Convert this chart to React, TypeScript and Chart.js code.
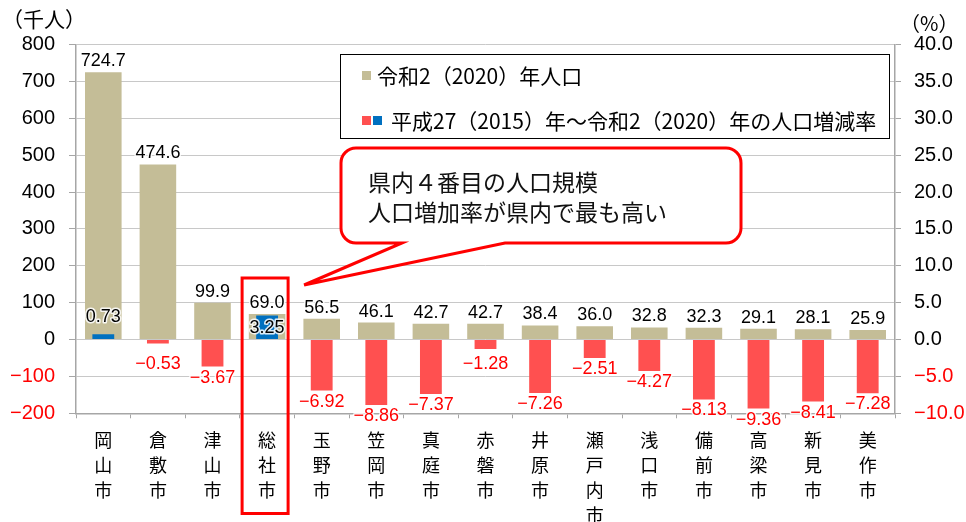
import { useEffect, useRef } from 'react';
import { Chart, registerables } from 'chart.js';

Chart.register(...registerables);

const categories = ['岡山市', '倉敷市', '津山市', '総社市', '玉野市', '笠岡市', '真庭市', '赤磐市', '井原市', '瀬戸内市', '浅口市', '備前市', '高梁市', '新見市', '美作市'];
const population = [724.7, 474.6, 99.9, 69.0, 56.5, 46.1, 42.7, 42.7, 38.4, 36.0, 32.8, 32.3, 29.1, 28.1, 25.9];
const changeRate = [0.73, -0.53, -3.67, 3.25, -6.92, -8.86, -7.37, -1.28, -7.26, -2.51, -4.27, -8.13, -9.36, -8.41, -7.28];
const popAxis = [-200, 800, 100];
const rateAxis = [-10, 40, 5];
const highlightIndex = 3;
const legendLabels = ['令和2（2020）年人口', '平成27（2015）年～令和2（2020）年の人口増減率'];
const calloutLines = ['県内４番目の人口規模', '人口増加率が県内で最も高い'];

const TAN = '#C4BD97';
const RED = '#FF5050';
const BLUE = '#0070C0';
const CJK = '"Noto Sans CJK JP", sans-serif';
const NUM = '"Liberation Sans", Arial, sans-serif';

const minus = (s: string) => s.replace('-', '\u2212');

function haloText(ctx: CanvasRenderingContext2D, t: string, x: number, y: number, color: string) {
  ctx.save();
  ctx.strokeStyle = 'rgba(255,255,255,0.85)';
  ctx.lineWidth = 3;
  ctx.lineJoin = 'round';
  ctx.strokeText(t, x, y);
  ctx.fillStyle = color;
  ctx.fillText(t, x, y);
  ctx.restore();
}

const valueLabels = {
  id: 'valueLabels',
  afterDatasetsDraw(chart: any) {
    const ctx = chart.ctx as CanvasRenderingContext2D;
    const y0 = chart.scales.y.getPixelForValue(0);
    const top = chart.chartArea.top;
    const rateMeta = chart.getDatasetMeta(0);
    const popMeta = chart.getDatasetMeta(1);
    ctx.save();
    ctx.font = `18px ${NUM}`;
    ctx.textAlign = 'center';
    ctx.textBaseline = 'middle';
    const popCenters: number[] = [];
    popMeta.data.forEach((bar: any, i: number) => {
      const cy = Math.max(bar.y - 11, top + 2);
      popCenters[i] = cy;
      haloText(ctx, population[i].toFixed(1), bar.x, cy, '#000');
    });
    rateMeta.data.forEach((bar: any, i: number) => {
      const v = changeRate[i];
      let cy: number;
      let color = '#000';
      if (v >= 0) {
        cy = Math.min(bar.y - 11, y0 - 23);
        if (Math.abs(cy - popCenters[i]) < 18) cy = bar.y + 12;
      } else {
        cy = Math.max(bar.y + 11, y0 + 24);
        color = '#FF0000';
      }
      haloText(ctx, minus(v.toFixed(2)), bar.x, cy, color);
    });
    ctx.restore();
  },
};

const annotations = {
  id: 'annotations',
  afterDraw(chart: any) {
    const ctx = chart.ctx as CanvasRenderingContext2D;
    const xs = chart.scales.x;
    const xc = xs.getPixelForValue(highlightIndex);
    ctx.save();

    // axis unit titles
    ctx.fillStyle = '#000';
    ctx.textBaseline = 'middle';
    ctx.textAlign = 'left';
    ctx.font = `21px ${CJK}`;
    ctx.fillText('（千人）', 2, 19);
    ctx.font = `20px ${CJK}`;
    ctx.fillText('（%）', 900, 23);

    // highlight box around category label
    ctx.strokeStyle = '#FF0000';
    ctx.lineWidth = 3;
    const bx1 = xc - 25, bx2 = xc + 21, by1 = 278, by2 = 513.5;
    ctx.strokeRect(bx1, by1, bx2 - bx1, by2 - by1);

    // callout
    const L = 341, T = 148, R = 741, B = 243, r = 15;
    const tipX = bx2 + 16, tipY = by1 + 7;
    ctx.beginPath();
    ctx.moveTo(L + r, T);
    ctx.lineTo(R - r, T);
    ctx.arcTo(R, T, R, T + r, r);
    ctx.lineTo(R, B - r);
    ctx.arcTo(R, B, R - r, B, r);
    ctx.lineTo(505, B);
    ctx.lineTo(tipX, tipY);
    ctx.lineTo(402, B);
    ctx.lineTo(L + r, B);
    ctx.arcTo(L, B, L, B - r, r);
    ctx.lineTo(L, T + r);
    ctx.arcTo(L, T, L + r, T, r);
    ctx.closePath();
    ctx.fillStyle = '#fff';
    ctx.fill();
    ctx.lineJoin = 'miter';
    ctx.stroke();
    ctx.fillStyle = '#111';
    ctx.font = `23px ${CJK}`;
    ctx.textAlign = 'left';
    ctx.fillText(calloutLines[0], 368, 182);
    ctx.fillText(calloutLines[1], 368, 212);

    // legend
    ctx.fillStyle = '#fff';
    ctx.fillRect(340, 54, 549, 84);
    ctx.strokeStyle = '#000';
    ctx.lineWidth = 1;
    ctx.strokeRect(340.5, 54.5, 549, 84);
    ctx.fillStyle = TAN;
    ctx.fillRect(362, 71, 9, 9);
    ctx.fillStyle = RED;
    ctx.fillRect(362, 116, 9, 9);
    ctx.fillStyle = BLUE;
    ctx.fillRect(373, 116, 9, 9);
    ctx.fillStyle = '#000';
    ctx.font = `21px ${CJK}`;
    ctx.fillText(legendLabels[0], 377, 76);
    ctx.fillText(legendLabels[1], 391, 121);
    ctx.restore();
  },
};

export default function App() {
  const ref = useRef<HTMLCanvasElement>(null);
  useEffect(() => {
    document.body.style.margin = '0';
    const chart = new Chart(ref.current!, {
      type: 'bar',
      data: {
        labels: categories.map((c) => c.split('')),
        datasets: [
          {
            label: legendLabels[1],
            data: changeRate,
            yAxisID: 'y1',
            backgroundColor: changeRate.map((v) => (v >= 0 ? BLUE : RED)),
            grouped: false,
            categoryPercentage: 1,
            barPercentage: 0.4,
            order: 0,
          },
          {
            label: legendLabels[0],
            data: population,
            yAxisID: 'y',
            backgroundColor: TAN,
            grouped: false,
            categoryPercentage: 1,
            barPercentage: 0.67,
            order: 1,
          },
        ],
      },
      options: {
        responsive: false,
        animation: false,
        devicePixelRatio: 1,
        layout: { padding: { top: 44.5, left: 0, right: 0, bottom: 0 } },
        plugins: { legend: { display: false }, tooltip: { enabled: false } },
        scales: {
          x: {
            afterFit: (s: any) => { s.height = 108.7; },
            grid: { display: true, drawOnChartArea: false, offset: true, tickLength: 5, color: '#a6a6a6' },
            border: { display: true, color: '#a6a6a6', width: 1.5 },
            ticks: {
              autoSkip: false,
              maxRotation: 0,
              padding: 9,
              color: '#000',
              font: { family: CJK, size: 18, lineHeight: 1.39 },
            },
          },
          y: {
            position: 'left',
            min: popAxis[0],
            max: popAxis[1],
            afterFit: (s: any) => { s.width = 76; },
            grid: { color: '#c8c8c8', tickLength: 7, tickColor: '#a6a6a6' },
            border: { display: true, color: '#a6a6a6', width: 1.5 },
            ticks: {
              stepSize: popAxis[2],
              padding: 14,
              font: { family: NUM, size: 20 },
              color: (c: any) => (c.tick.value < 0 ? '#FF0000' : '#000'),
              callback: (v: any) => minus(String(v)),
            },
          },
          y1: {
            position: 'right',
            min: rateAxis[0],
            max: rateAxis[1],
            afterFit: (s: any) => { s.width = 71; },
            grid: { drawOnChartArea: false, tickLength: 6, tickColor: '#a6a6a6' },
            border: { display: true, color: '#a6a6a6', width: 1.5 },
            ticks: {
              stepSize: rateAxis[2],
              padding: 13,
              font: { family: NUM, size: 20 },
              color: (c: any) => (c.tick.value < 0 ? '#FF0000' : '#000'),
              callback: (v: any) => minus(Number(v).toFixed(1)),
            },
          },
        },
      },
      plugins: [valueLabels, annotations],
    } as any);
    return () => chart.destroy();
  }, []);
  return (
    <div style={{ width: 966, height: 522 }}>
      <canvas ref={ref} width={966} height={522} />
    </div>
  );
}
